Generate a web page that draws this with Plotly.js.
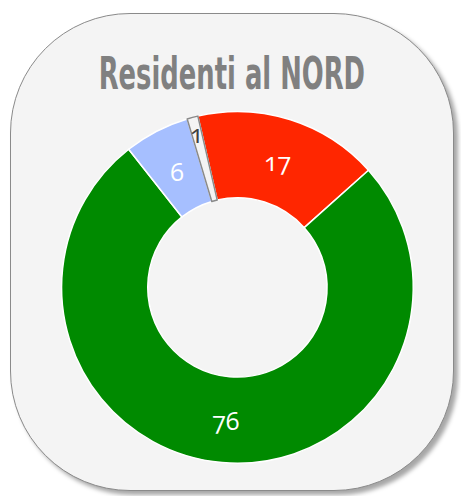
<!DOCTYPE html>
<html>
<head>
<meta charset="utf-8">
<script src="https://cdn.plot.ly/plotly-3.0.1.min.js"></script>
<style>
  html, body { margin: 0; padding: 0; background: #ffffff; }
  #wrap { position: relative; width: 461px; height: 496px; overflow: hidden; }
  #card {
    position: absolute; left: 10px; top: 13px; width: 442px; height: 476px;
    background: #f4f4f4; border: 1.5px solid #8a8a8a; border-radius: 120px;
    box-shadow: 4px 4px 4px rgba(0,0,0,0.35);
  }
  #chart { position: absolute; left: 0; top: 0; width: 461px; height: 496px; }
  #chart .gtitle {
    transform-box: fill-box; transform-origin: center;
    transform: scaleX(0.587);
  }
  #chart .slicetext { font-variant-numeric: oldstyle-nums; font-feature-settings: "onum" 1; }
</style>
</head>
<body>
<div id="wrap">
  <div id="card"></div>
  <div id="chart"></div>
</div>
<script>
const categories = ["Cat. A", "Cat. B", "Cat. C", "Cat. D"];
const values = [17, 76, 6, 1];
const sliceColors = ["#ff2600", "#008a00", "#a6bfff", "#f4f4f4"];
const lineColors = ["#ffffff", "#ffffff", "#ffffff", "#8a8a8a"];
const textColors = ["#ffffff", "#ffffff", "#ffffff", "#404040"];
const ringLabels = ["%{value}", "%{value}", "", ""];
const midLabels = ["", "", "%{value}", ""];
const outerLabels = ["", "", "", "%{value}"];
const titleText = "Residenti al NORD";

const dom = { x: [0.131, 0.899], y: [0.066, 0.775] };
const domMid = { x: [0.1776, 0.8522], y: [0.107, 0.734] };
const domOuter = { x: [0.1567, 0.8733], y: [0.0875, 0.7535] };
const numFont = "'Open Sans', Lato, sans-serif";
const numSize = 25;
const clear = ["rgba(0,0,0,0)", "rgba(0,0,0,0)", "rgba(0,0,0,0)", "rgba(0,0,0,0)"];

const ring = {
  type: "pie",
  labels: categories,
  values: values,
  sort: false,
  direction: "clockwise",
  rotation: -13,
  hole: 0.51,
  texttemplate: ringLabels,
  textposition: "inside",
  insidetextorientation: "horizontal",
  insidetextfont: { family: numFont, size: numSize, color: textColors },
  marker: { colors: sliceColors, line: { color: lineColors, width: 1.5 } },
  domain: dom,
  showlegend: false,
  hoverinfo: "label+value"
};

// transparent overlay rings, used only to place labels of the narrow slices
const midRing = {
  type: "pie",
  labels: categories,
  values: values,
  sort: false,
  direction: "clockwise",
  rotation: -13,
  hole: 0.5,
  texttemplate: midLabels,
  textposition: "inside",
  insidetextorientation: "horizontal",
  insidetextfont: { family: numFont, size: numSize, color: textColors },
  marker: { colors: clear, line: { width: 0 } },
  domain: domMid,
  showlegend: false,
  hoverinfo: "skip"
};

const outer = {
  type: "pie",
  labels: categories,
  values: values,
  sort: false,
  direction: "clockwise",
  rotation: -13,
  hole: 0.65,
  texttemplate: outerLabels,
  textposition: "inside",
  insidetextorientation: "horizontal",
  insidetextfont: { family: numFont, size: numSize, color: textColors },
  marker: { colors: clear, line: { width: 0 } },
  domain: domOuter,
  showlegend: false,
  hoverinfo: "skip"
};

const layout = {
  width: 461, height: 496,
  margin: { l: 0, r: 0, t: 0, b: 0 },
  paper_bgcolor: "rgba(0,0,0,0)",
  plot_bgcolor: "rgba(0,0,0,0)",
  showlegend: false,
  uniformtext: { mode: "show", minsize: numSize },
  title: {
    text: "<b>" + titleText + "</b>",
    x: 0.503, xanchor: "center",
    y: 0.851, yanchor: "middle",
    font: { family: "'DejaVu Sans', sans-serif", size: 44, color: "#808080" }
  }
};

Plotly.newPlot("chart", [ring, midRing, outer], layout, { displayModeBar: false, staticPlot: true });
</script>
</body>
</html>
